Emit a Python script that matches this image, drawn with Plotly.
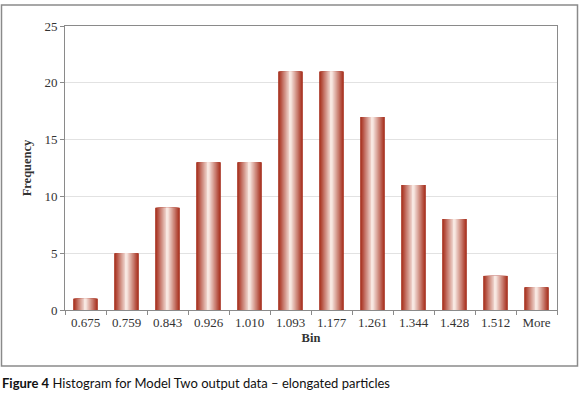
import plotly.graph_objects as go

bins = ["0.675", "0.759", "0.843", "0.926", "1.010", "1.093", "1.177",
        "1.261", "1.344", "1.428", "1.512", "More"]
frequency = [1, 5, 9, 13, 13, 21, 21, 17, 11, 8, 3, 2]
y_ticks = [0, 5, 10, 15, 20, 25]

dark = (165, 44, 26)
light = (253, 243, 238)
bar_width = 0.6
layers = 16

fig = go.Figure()
for k in range(layers):
    d = 1 - k / layers
    t = d ** 1.0
    c = tuple(int(round(light[i] + (dark[i] - light[i]) * t)) for i in range(3))
    fig.add_trace(go.Bar(
        x=bins, y=frequency, width=bar_width * d,
        marker=dict(color="rgb(%d,%d,%d)" % c, line=dict(width=0)),
        showlegend=False, hoverinfo="x+y" if k == 0 else "skip",
    ))

W, H = 580, 395
L, R, T, B = 65, 23, 26, 85
pw, ph = W - L - R, H - T - B

def px(x):
    return (x - L) / pw

def py(y):
    return (H - B - y) / ph

serif = "Liberation Serif, DejaVu Serif, serif"
fig.update_layout(
    width=W, height=H,
    margin=dict(l=L, r=R, t=T, b=B),
    paper_bgcolor="white", plot_bgcolor="white",
    barmode="overlay",
    font=dict(family=serif, size=13, color="#333"),
    xaxis=dict(
        type="category", showline=True, linecolor="#8a8a8a", linewidth=1,
        mirror=True, ticks="outside", tickson="boundaries", ticklen=4,
        tickcolor="#8a8a8a", showgrid=False,
        title=dict(text="<b>Bin</b>", font=dict(family=serif, size=12.5, color="#333"), standoff=4),
        tickfont=dict(family=serif, size=13, color="#333"),
    ),
    yaxis=dict(
        range=[0, 25], tickvals=y_ticks, showline=True, linecolor="#8a8a8a",
        linewidth=1, mirror=True, ticks="outside", ticklen=4, tickcolor="#8a8a8a",
        showgrid=True, gridcolor="#e2e2e2", gridwidth=1, zeroline=False,
        title=dict(text="<b>Frequency</b>", font=dict(family=serif, size=12.5, color="#333"), standoff=10),
        tickfont=dict(family=serif, size=13, color="#333"),
    ),
    shapes=[dict(
        type="rect", xref="paper", yref="paper",
        x0=px(1.5), x1=px(577.5), y0=py(366), y1=py(5),
        line=dict(color="#8a8a8a", width=1.5), fillcolor="rgba(0,0,0,0)",
        layer="below",
    )],
    annotations=[dict(
        xref="paper", yref="paper", x=px(0), y=py(383),
        xanchor="left", yanchor="middle", showarrow=False,
        text="<b>Figure 4</b> Histogram for Model Two output data \u2013 elongated particles",
        font=dict(family="Lato, Open Sans, sans-serif", size=13, color="#111"),
    )],
)

fig.write_html("out.html", config={"displayModeBar": False},
               post_script="document.body.style.margin='0';")
